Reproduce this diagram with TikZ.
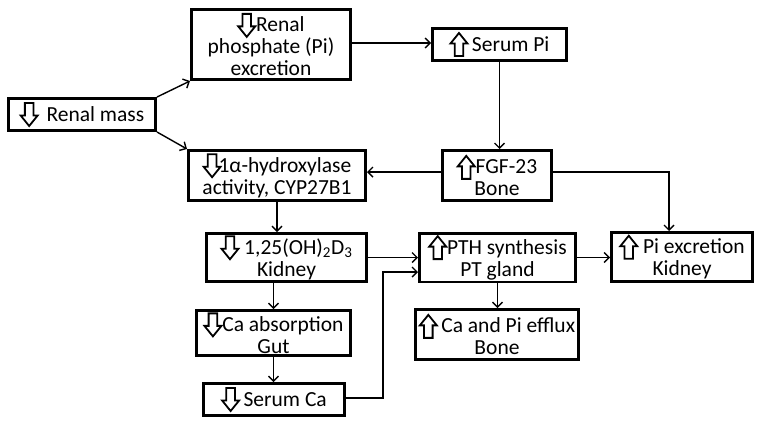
\documentclass[tikz,border=0pt]{standalone}
\usepackage{fontspec}
\setmainfont{Carlito}
\usetikzlibrary{arrows.meta,calc}
\newcommand{\dnarr}{\tikz[x=1pt,y=1pt,baseline=5pt]\draw[line width=1.8pt,line join=miter,black] (4.2,23)--(12.8,23)--(12.8,10.5)--(17,10.5)--(8.5,0)--(0,10.5)--(4.2,10.5)--cycle;}
\newcommand{\uparr}{\tikz[x=1pt,y=1pt,baseline=5pt]\draw[line width=1.8pt,line join=miter,black] (8.5,23)--(17,12.5)--(12.8,12.5)--(12.8,0)--(4.2,0)--(4.2,12.5)--(0,12.5)--cycle;}
\tikzset{
  box/.style={draw=black,line width=2.6pt,align=center,inner sep=2pt,
    font=\fontsize{21.5}{22}\selectfont},
  conn/.style={draw=black,line width=1.4pt,-{Straight Barb[length=5pt,width=10pt,line width=1.4pt]}},
}
\begin{document}
\begin{tikzpicture}[x=1pt,y=-1pt]
\useasboundingbox (0,0) rectangle (762,424);
\fill[white] (0,0) rectangle (762,424);

\node[box,minimum width=147.4pt,minimum height=32.4pt] (mass) at (82,114.5) {\dnarr\hspace{8pt}Renal mass};
\node[box,minimum width=159.4pt,minimum height=70.4pt] (phos) at (271,44.5) {\dnarr Renal\\phosphate (Pi)\\excretion};
\node[box,minimum width=177.4pt,minimum height=50.4pt] (hyd) at (277,175.5) {\dnarr\hspace{-3pt}1α-hydroxylase\\activity, CYP27B1};
\node[box,minimum width=134.4pt,minimum height=32.4pt] (spi) at (499.5,44.5) {\uparr\,Serum Pi};
\node[box,minimum width=109.4pt,minimum height=50.4pt] (fgf) at (497,175.5) {\uparr FGF-23\\Bone};
\node[box,minimum width=160.4pt,minimum height=48.4pt] (d3) at (286.5,257.5) {\dnarr\ 1,25(OH)\textsubscript{2}D\textsubscript{3}\\Kidney};
\node[box,minimum width=154.4pt,minimum height=41.4pt] (caabs) at (273.5,333) {\dnarr Ca absorption\\Gut};
\node[box,minimum width=141.4pt,minimum height=32.4pt] (sca) at (274,399.5) {\dnarr\,Serum Ca};
\node[box,minimum width=156.4pt,minimum height=48.4pt] (pth) at (497.5,257.5) {\uparr PTH synthesis\\PT gland};
\node[box,minimum width=163.4pt,minimum height=50.4pt] (eff) at (497,334.5) {\uparr\,Ca and Pi efflux\\Bone};
\node[box,minimum width=141.4pt,minimum height=49.4pt] (pix) at (682,257) {\uparr\ Pi excretion\\Kidney};

\draw[conn] (mass.north east) -- (phos.south west);
\draw[conn] (mass.south east) -- (hyd.north west);
\draw[conn] ([yshift=1.5pt]phos.east) -- ([yshift=1.5pt]phos.east -| spi.west);
\draw[conn] (spi.south) -- (spi.south |- fgf.north);
\draw[conn] ([yshift=3.5pt]fgf.west) -- ([yshift=3.5pt]fgf.west -| hyd.east);
\draw[conn] ([yshift=3.5pt]fgf.east) -| ([xshift=-13pt]pix.north);
\draw[conn] (hyd.south) -- (hyd.south |- d3.north);
\draw[conn] (d3.east) -- (d3.east -| pth.west);
\draw[conn] (caabs.north |- d3.south) -- (caabs.north);
\draw[conn] (caabs.south) -- (caabs.south |- sca.north);
\draw[conn] ([yshift=1.5pt]sca.east) -- ++(37,0) |- ([yshift=-14.5pt]pth.west);
\draw[conn] (pth.south) -- (pth.south |- eff.north);
\draw[conn] (pth.east) -- (pth.east -| pix.west);
\end{tikzpicture}
\end{document}
